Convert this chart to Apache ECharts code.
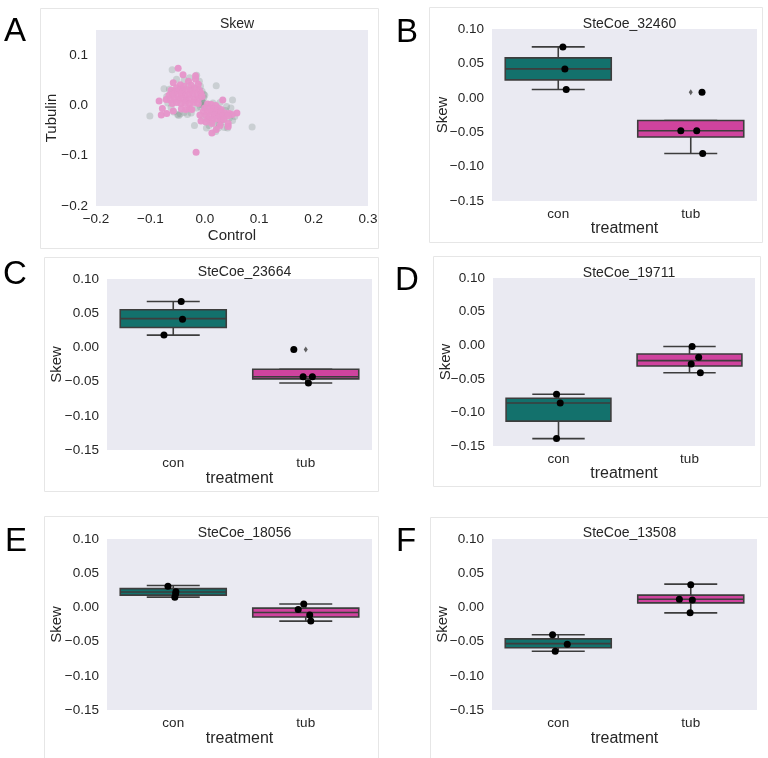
<!DOCTYPE html>
<html>
<head>
<meta charset="utf-8">
<script src="https://cdn.jsdelivr.net/npm/echarts@6/dist/echarts.min.js"></script>
<style>
html,body{margin:0;padding:0;background:#fff;}
#chart{width:768px;height:758px;}
</style>
</head>
<body>
<div id="chart"></div>
<script>
// ---------------- DATA ----------------
const categories = ['con', 'tub'];
const panelTitles = ['Skew', 'SteCoe_32460', 'SteCoe_23664', 'SteCoe_19711', 'SteCoe_18056', 'SteCoe_13508'];
const panelLetters = ['A', 'B', 'C', 'D', 'E', 'F'];

// Panel A scatter (Control, Tubulin)
const greyPoints = [
  [-0.060,0.071],[-0.015,0.060],[0.021,0.039],[0.051,0.011],[-0.101,-0.021],[-0.019,-0.040],
  [0.087,-0.043],[0.042,-0.045],[0.051,-0.030],[-0.075,0.033],[-0.045,-0.017],[-0.057,-0.013],
  [0.020,-0.052],[-0.052,0.052],[-0.038,0.050],[-0.028,0.055],[-0.065,0.032],[-0.042,0.034],
  [-0.030,0.037],[-0.020,0.035],[-0.008,0.038],[-0.005,0.028],[-0.002,0.015],[-0.004,0.005],
  [-0.008,-0.003],[-0.015,-0.005],[-0.038,-0.014],[-0.048,-0.020],[-0.032,-0.018],[-0.062,-0.004],
  [-0.068,0.005],[0.028,0.006],[0.040,-0.002],[0.038,-0.010],[0.045,-0.025],[0.030,-0.034],
  [0.020,-0.038],[0.008,-0.040],[-0.003,-0.025],[0.055,-0.022],[0.048,-0.005],[0.025,-0.045],
  [-0.060,0.025],[-0.070,0.018],[-0.010,0.048],[0.000,0.020],[-0.025,-0.015],[0.036,-0.044],
  [0.003,-0.045],[0.015,0.005],[-0.006,0.010],[-0.003,0.000],[0.032,-0.018],[0.010,-0.032],
  [-0.004,0.008],[-0.006,0.002],[-0.002,0.022],[0.026,-0.036],[0.034,-0.028],[-0.050,-0.018]
];
const pinkPoints = [
  [-0.049,0.074],[-0.040,0.061],[-0.058,0.045],[-0.017,0.059],[-0.017,0.052],[-0.030,0.048],
  [-0.045,0.041],[-0.052,0.035],[-0.038,0.038],[-0.025,0.040],[-0.012,0.042],[-0.062,0.030],
  [-0.055,0.028],[-0.047,0.030],[-0.040,0.028],[-0.033,0.031],[-0.026,0.029],[-0.018,0.033],
  [-0.010,0.030],[-0.066,0.020],[-0.058,0.022],[-0.050,0.020],[-0.043,0.022],[-0.036,0.019],
  [-0.029,0.021],[-0.022,0.023],[-0.014,0.020],[-0.007,0.024],[-0.071,0.012],[-0.063,0.011],
  [-0.055,0.013],[-0.048,0.012],[-0.041,0.014],[-0.034,0.010],[-0.027,0.013],[-0.019,0.011],
  [-0.012,0.013],[-0.084,0.009],[-0.060,0.004],[-0.052,0.006],[-0.044,0.004],[-0.036,0.005],
  [-0.028,0.003],[-0.020,0.006],[-0.012,0.004],[-0.078,-0.006],[-0.080,-0.019],[-0.070,-0.016],
  [-0.058,-0.011],[-0.043,-0.007],[-0.035,-0.008],[-0.028,-0.006],[-0.024,-0.008],[-0.005,0.018],
  [0.033,0.011],[0.005,0.003],[0.012,0.002],[0.020,0.000],[0.000,-0.005],[0.008,-0.006],
  [0.016,-0.007],[0.024,-0.005],[0.030,-0.008],[-0.003,-0.012],[0.005,-0.013],[0.013,-0.012],
  [0.021,-0.014],[0.029,-0.013],[0.037,-0.015],[0.045,-0.016],[0.059,-0.015],[0.050,-0.018],
  [0.002,-0.020],[0.010,-0.021],[0.018,-0.019],[0.026,-0.022],[0.034,-0.020],[0.042,-0.021],
  [-0.009,-0.019],[-0.007,-0.031],[0.006,-0.027],[0.014,-0.028],[0.022,-0.027],[0.030,-0.030],
  [0.013,-0.036],[0.028,-0.040],[0.043,-0.036],[0.043,-0.042],[0.021,-0.048],[0.013,-0.055],
  [-0.016,-0.093],[0.002,-0.033],[0.035,-0.027]
];

// Box statistics per panel: [category index, low whisker, q1, median, q3, high whisker]
const boxB = [[0, 0.012, 0.026, 0.042, 0.058, 0.074], [1, -0.081, -0.057, -0.048, -0.033, -0.033]];
const boxC = [[0, 0.018, 0.029, 0.042, 0.055, 0.067], [1, -0.052, -0.046, -0.043, -0.032, -0.032]];
const boxD = [[0, -0.139, -0.113, -0.086, -0.079, -0.073], [1, -0.041, -0.031, -0.023, -0.013, -0.002]];
const boxE = [[0, 0.015, 0.018, 0.0225, 0.0275, 0.032], [1, -0.020, -0.014, -0.0075, -0.001, 0.005]];
const boxF = [[0, -0.064, -0.059, -0.053, -0.046, -0.040], [1, -0.008, 0.0066, 0.012, 0.018, 0.034]];

// Outliers (fliers): [category index, value]
const fliersB = [[1, 0.008]];
const fliersC = [[1, -0.003]];

// Strip points: [category index, value, jitter (fraction of category band)]
const stripB = [[0,0.074,0.035],[0,0.042,0.05],[0,0.012,0.06],[1,-0.048,-0.075],[1,-0.048,0.045],[1,-0.081,0.09],[1,0.008,0.085]];
const stripC = [[0,0.067,0.06],[0,0.041,0.07],[0,0.018,-0.07],[1,-0.003,-0.09],[1,-0.043,-0.02],[1,-0.043,0.05],[1,-0.052,0.02]];
const stripD = [[0,-0.073,-0.015],[0,-0.086,0.013],[0,-0.139,-0.015],[1,-0.002,0.02],[1,-0.018,0.07],[1,-0.028,0.013],[1,-0.041,0.083]];
const stripE = [[0,0.031,-0.04],[0,0.023,0.02],[0,0.020,0.018],[0,0.015,0.012],[1,0.005,-0.015],[1,-0.003,-0.057],[1,-0.011,0.03],[1,-0.020,0.038]];
const stripF = [[0,-0.040,-0.043],[0,-0.054,0.068],[0,-0.064,-0.023],[1,0.033,0.0],[1,0.012,-0.086],[1,0.011,0.012],[1,-0.008,-0.005]];

const boxData = [boxB, boxC, boxD, boxE, boxF];
const flierData = [fliersB, fliersC, [], [], []];
const stripData = [stripB, stripC, stripD, stripE, stripF];

// ---------------- STYLE / LAYOUT ----------------
const FONT = 'Liberation Sans, Arial, sans-serif';
const TXT = '#262626';
const BG = '#eaeaf2';
const boxColors = ['#13716c', '#cf439e'];
const EDGE = '#3d3d3d';

// grids: [left, top, width, height]
const grids = [
  [96, 30, 272, 176],
  [492, 29, 265, 172],
  [107, 279, 265, 171],
  [493, 278, 262, 168],
  [107, 539, 265, 171],
  [492, 539, 265, 171]
];
const titleTops = [12, 12, 260, 261, 521, 521];
const yNameGaps = [37, 42, 43, 40, 43, 42];
const xNameGaps = [22, 20, 21, 20, 21, 21];
const frames = [
  [40, 8, 338, 240], [429, 7, 333, 235], [44, 257, 334, 234],
  [433, 256, 327, 230], [44, 516, 334, 260], [430, 517, 350, 260]
];
const letterPos = [[15, 32], [407, 33], [15, 275], [407, 281], [16, 542], [406, 542]];

function fmt(v, d) {
  if (Math.abs(v) < 1e-9) v = 0;
  return v.toFixed(d).replace('-', '\u2212');
}

const option = {
  animation: false,
  backgroundColor: '#fff',
  title: grids.map((g, i) => ({
    text: panelTitles[i],
    left: g[0] + g[2] / 2,
    top: titleTops[i],
    textAlign: 'center',
    textStyle: { fontFamily: FONT, fontSize: 14, fontWeight: 'normal', color: TXT }
  })),
  grid: grids.map(g => ({
    left: g[0], top: g[1], width: g[2], height: g[3],
    show: true, backgroundColor: BG, borderWidth: 0
  })),
  xAxis: grids.map((g, i) => {
    const base = {
      gridIndex: i,
      nameLocation: 'middle',
      nameGap: xNameGaps[i],
      nameMoveOverlap: false,
      nameTextStyle: { fontFamily: FONT, fontSize: i === 0 ? 15 : 16, color: TXT },
      axisLine: { show: false },
      axisTick: { show: false },
      splitLine: { show: false },
      axisLabel: { fontFamily: FONT, fontSize: 13.5, color: TXT, margin: 6 }
    };
    if (i === 0) {
      return Object.assign(base, {
        type: 'value', name: 'Control', min: -0.2, max: 0.3, interval: 0.1,
        axisLabel: Object.assign(base.axisLabel, { formatter: v => fmt(v, 1) })
      });
    }
    return Object.assign(base, { type: 'category', name: 'treatment', data: categories, boundaryGap: true });
  }),
  yAxis: grids.map((g, i) => {
    const base = {
      gridIndex: i,
      type: 'value',
      name: i === 0 ? 'Tubulin' : 'Skew',
      nameLocation: 'middle',
      nameGap: yNameGaps[i],
      nameMoveOverlap: false,
      nameTextStyle: { fontFamily: FONT, fontSize: 15, color: TXT },
      axisLine: { show: false },
      axisTick: { show: false },
      splitLine: { show: false },
      axisLabel: { fontFamily: FONT, fontSize: 13.5, color: TXT, margin: 8 }
    };
    if (i === 0) {
      return Object.assign(base, {
        min: -0.2, max: 0.15, interval: 0.1,
        axisLabel: Object.assign(base.axisLabel, {
          formatter: v => (Math.abs(v - 0.15) < 1e-9 ? '' : fmt(v, 1))
        })
      });
    }
    return Object.assign(base, {
      min: -0.15, max: 0.1, interval: 0.05,
      axisLabel: Object.assign(base.axisLabel, { formatter: v => fmt(v, 2) })
    });
  }),
  graphic: [].concat(
    frames.map(f => ({
      type: 'rect', silent: true, z: -10,
      shape: { x: f[0] + 0.5, y: f[1] + 0.5, width: f[2], height: f[3] },
      style: { fill: 'none', stroke: '#e6e6e6', lineWidth: 1 }
    })),
    letterPos.map((p, i) => ({
      type: 'text', silent: true,
      x: p[0], y: p[1],
      style: {
        text: panelLetters[i], fontFamily: FONT, fontSize: 33, fill: '#000',
        textAlign: 'center', textVerticalAlign: 'middle'
      }
    }))
  ),
  series: []
};

// Panel A scatter
option.series.push({
  type: 'scatter', xAxisIndex: 0, yAxisIndex: 0,
  data: greyPoints, symbolSize: 7,
  itemStyle: { color: 'rgba(125,140,136,0.36)' }
});
option.series.push({
  type: 'scatter', xAxisIndex: 0, yAxisIndex: 0,
  data: pinkPoints, symbolSize: 7,
  itemStyle: { color: '#e694c9', opacity: 0.95 }
});

function renderBox(params, api) {
  const i = api.value(0);
  const pL = api.coord([i, api.value(1)]);
  const p1 = api.coord([i, api.value(2)]);
  const pM = api.coord([i, api.value(3)]);
  const p3 = api.coord([i, api.value(4)]);
  const pH = api.coord([i, api.value(5)]);
  const band = api.size([1, 0])[0];
  const c = pM[0];
  const bw = band * 0.8, cw = band * 0.4;
  const ls = { stroke: EDGE, lineWidth: 1.6 };
  return {
    type: 'group',
    children: [
      { type: 'line', shape: { x1: c, y1: p3[1], x2: c, y2: pH[1] }, style: ls },
      { type: 'line', shape: { x1: c - cw / 2, y1: pH[1], x2: c + cw / 2, y2: pH[1] }, style: ls },
      { type: 'line', shape: { x1: c, y1: p1[1], x2: c, y2: pL[1] }, style: ls },
      { type: 'line', shape: { x1: c - cw / 2, y1: pL[1], x2: c + cw / 2, y2: pL[1] }, style: ls },
      { type: 'rect', shape: { x: c - bw / 2, y: p3[1], width: bw, height: p1[1] - p3[1] },
        style: { fill: boxColors[i], stroke: EDGE, lineWidth: 1.6 } },
      { type: 'line', shape: { x1: c - bw / 2, y1: pM[1], x2: c + bw / 2, y2: pM[1] }, style: ls }
    ]
  };
}

function renderPoint(params, api) {
  const p = api.coord([api.value(0), api.value(1)]);
  const band = api.size([1, 0])[0];
  return {
    type: 'circle',
    shape: { cx: p[0] + api.value(2) * band, cy: p[1], r: 3.5 },
    style: { fill: '#000' }
  };
}

for (let k = 0; k < 5; k++) {
  const gi = k + 1;
  option.series.push({
    type: 'custom', xAxisIndex: gi, yAxisIndex: gi,
    renderItem: renderBox,
    encode: { x: 0, y: [1, 2, 3, 4, 5] },
    data: boxData[k], z: 2
  });
  if (flierData[k].length) {
    option.series.push({
      type: 'scatter', xAxisIndex: gi, yAxisIndex: gi,
      data: flierData[k], symbol: 'diamond', symbolSize: [4, 6],
      itemStyle: { color: EDGE }, z: 3
    });
  }
  option.series.push({
    type: 'custom', xAxisIndex: gi, yAxisIndex: gi,
    renderItem: renderPoint,
    encode: { x: 0, y: 1 },
    data: stripData[k], z: 4
  });
}

const chart = echarts.init(document.getElementById('chart'), null, { renderer: 'canvas' });
chart.setOption(option);
</script>
</body>
</html>
